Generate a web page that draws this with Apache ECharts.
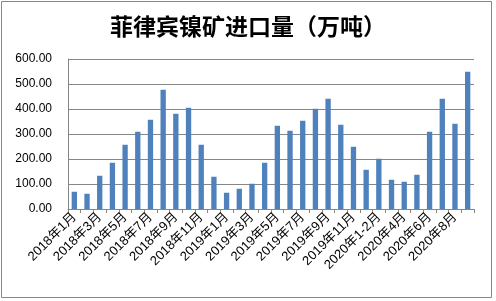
<!DOCTYPE html>
<html><head><meta charset="utf-8">
<script src="https://cdn.jsdelivr.net/npm/echarts@6/dist/echarts.min.js"></script>
<style>html,body{margin:0;padding:0;background:#fff}#c{width:496px;height:301px}</style>
</head><body><div id="c"></div>
<script>
const categories = ["2018年1月","2018年2月","2018年3月","2018年4月","2018年5月","2018年6月","2018年7月","2018年8月","2018年9月","2018年10月","2018年11月","2018年12月",
"2019年1月","2019年2月","2019年3月","2019年4月","2019年5月","2019年6月","2019年7月","2019年8月","2019年9月","2019年10月","2019年11月","2019年12月",
"2020年1-2月","2020年3月","2020年4月","2020年5月","2020年6月","2020年7月","2020年8月","2020年9月"];
const imports = [69,61,133,185,257,309,357,477,381,405,257,129,
65,81,101,185,333,313,353,401,441,337,249,157,
201,117,109,137,309,441,341,549];
const yTicks = [0,100,200,300,400,500,600];

const chart = echarts.init(document.getElementById('c'), null, {renderer:'canvas'});
chart.setOption({
  animation:false,
  title:{text:'菲律宾镍矿进口量（万吨）',left:'center',top:10,
    textStyle:{fontFamily:'Noto Sans CJK SC',fontSize:23,fontWeight:'bold',color:'#000'}},
  grid:{left:68,right:22,top:59,bottom:92},
  graphic:[{type:'rect',shape:{x:1.5,y:1.5,width:490,height:296},style:{fill:'none',stroke:'#868686',lineWidth:1}}],
  xAxis:{type:'category',data:categories,boundaryGap:true,
    axisLine:{lineStyle:{color:'#868686'}},
    axisTick:{show:true,length:4,lineStyle:{color:'#868686'},interval:0},
    axisLabel:{interval:1,rotate:45,fontSize:13,color:'#000',fontFamily:'Liberation Sans, Noto Sans CJK SC',margin:6}},
  yAxis:{type:'value',min:yTicks[0],max:yTicks[yTicks.length-1],interval:100,
    axisLine:{show:true,lineStyle:{color:'#868686'}},axisTick:{show:false},
    splitLine:{lineStyle:{color:'#868686'}},
    axisLabel:{formatter:v=>v.toFixed(2),fontSize:12,color:'#000',fontFamily:'Liberation Sans',margin:16}},
  series:[{type:'bar',data:imports,barWidth:'42%',itemStyle:{color:'#4F81BD'}}]
});
</script></body></html>
